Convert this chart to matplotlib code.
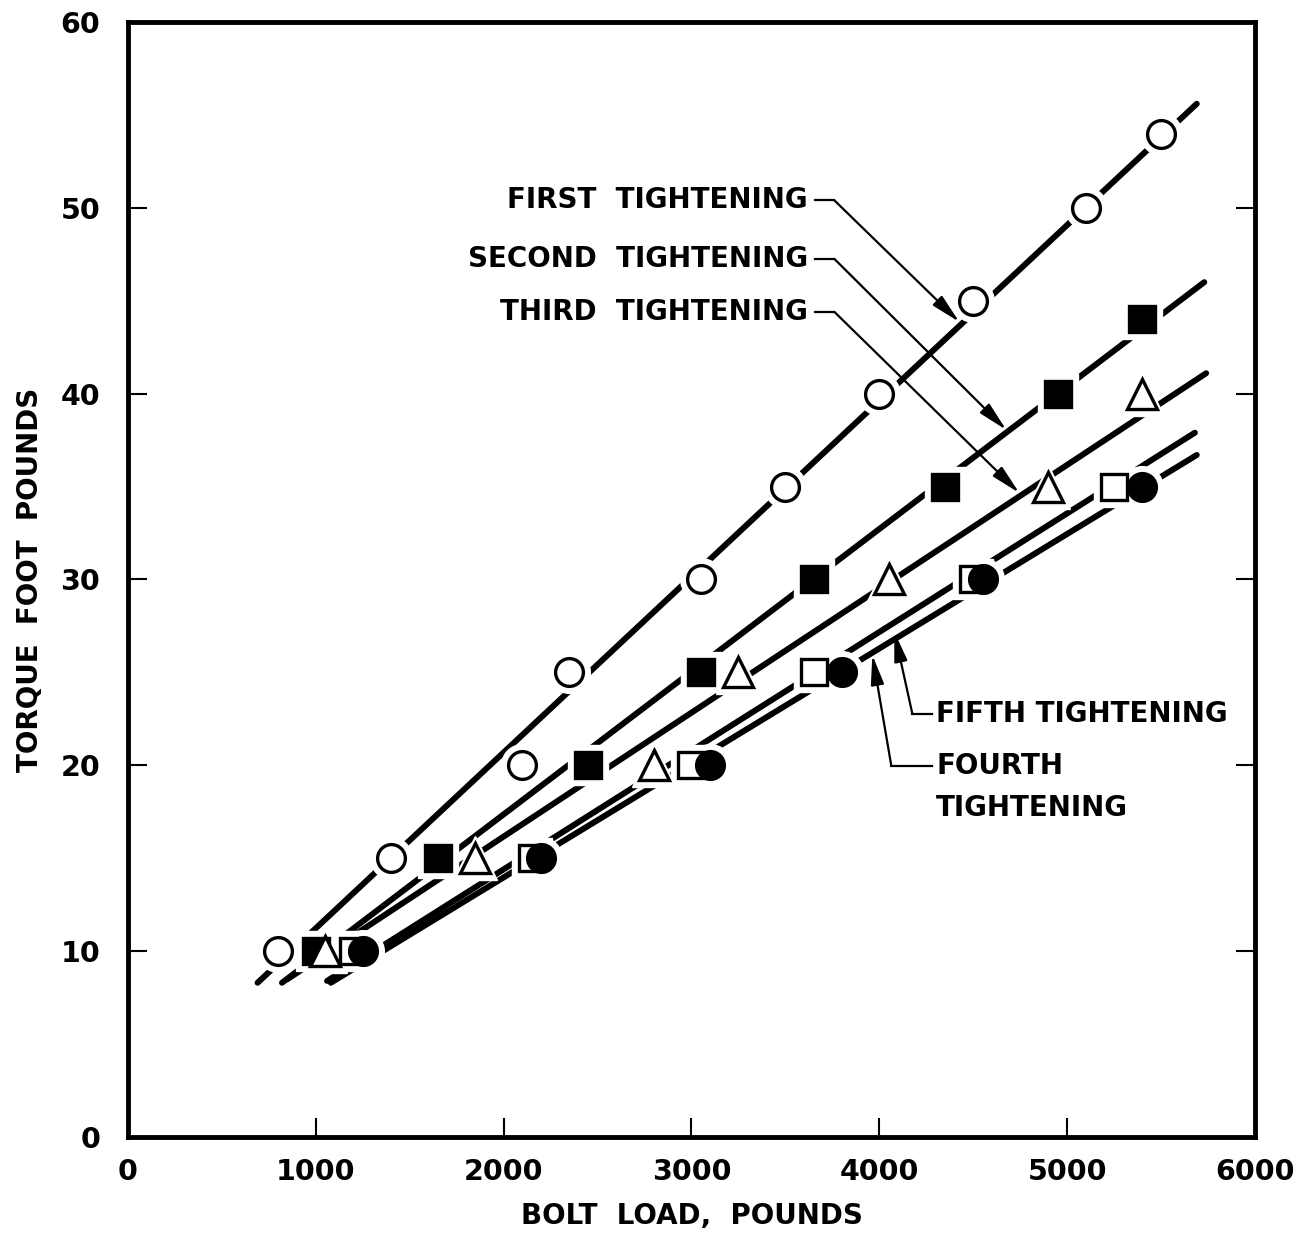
import matplotlib
matplotlib.use("Agg")
import matplotlib.pyplot as plt

# bolt load (lb) vs torque (ft-lb) for five successive tightenings
first_load = [800, 1400, 2100, 2350, 3050, 3500, 4000, 4500, 5100, 5500]
first_torque = [10, 15, 20, 25, 30, 35, 40, 45, 50, 54]
second_load = [1000, 1650, 2450, 3050, 3650, 4350, 4950, 5400]
second_torque = [10, 15, 20, 25, 30, 35, 40, 44]
third_load = [1050, 1850, 2800, 3250, 4050, 4900, 5400]
third_torque = [10, 15, 20, 25, 30, 35, 40]
fourth_load = [1250, 2200, 3100, 3800, 4550, 5400]
fourth_torque = [10, 15, 20, 25, 30, 35]
fifth_load = [1200, 2150, 3000, 3650, 4500, 5250]
fifth_torque = [10, 15, 20, 25, 30, 35]

# hand-drawn fit lines (end points)
first_fit_x, first_fit_y = [690, 5690], [8.3, 55.6]
second_fit_x, second_fit_y = [820, 5730], [8.3, 46.0]
third_fit_x, third_fit_y = [850, 5740], [8.5, 41.1]
fourth_fit_x, fourth_fit_y = [1080, 5690], [8.3, 36.7]
fifth_fit_x, fifth_fit_y = [1060, 5680], [8.4, 37.9]

x_ticks = [0, 1000, 2000, 3000, 4000, 5000, 6000]
y_ticks = [0, 10, 20, 30, 40, 50, 60]

plt.rcParams['font.family'] = ['DejaVu Sans']

fig = plt.figure(figsize=(13.07, 12.36), dpi=100)
ax = fig.add_axes([0.0979, 0.0801, 0.8623, 0.9021])

fits = [(first_fit_x, first_fit_y), (second_fit_x, second_fit_y),
        (third_fit_x, third_fit_y), (fourth_fit_x, fourth_fit_y),
        (fifth_fit_x, fifth_fit_y)]
for fx, fy in fits:
    ax.plot(fx, fy, color='black', lw=4.3, solid_capstyle='round', zorder=2)

series = [
    (first_load, first_torque, 'o', 'white', 20),
    (second_load, second_torque, 's', 'black', 19),
    (third_load, third_torque, '^', 'white', 21),
    (fifth_load, fifth_torque, 's', 'white', 19),
    (fourth_load, fourth_torque, 'o', 'black', 20),
]
# white halo under every marker so lines break around it
for xs, ys, m, fc, ms in series:
    ax.plot(xs, ys, ls='none', marker=m, ms=ms + 10, mfc='white', mec='white', zorder=3)
for i, (xs, ys, m, fc, ms) in enumerate(series):
    ax.plot(xs, ys, ls='none', marker=m, ms=ms, mfc=fc, mec='black', mew=2.4, zorder=4 + i)

# labels with leader arrows
txt = dict(fontsize=20, fontweight='bold', color='black', va='center')
ax.text(3620, 50.4, 'FIRST  TIGHTENING', ha='right', **txt)
ax.text(3620, 47.25, 'SECOND  TIGHTENING', ha='right', **txt)
ax.text(3620, 44.4, 'THIRD  TIGHTENING', ha='right', **txt)
ax.text(4303, 22.77, 'FIFTH TIGHTENING', ha='left', **txt)
ax.text(4303, 19.97, 'FOURTH', ha='left', **txt)
ax.text(4303, 17.7, 'TIGHTENING', ha='left', **txt)

arrow = dict(arrowstyle='-|>,head_length=1.8,head_width=0.4', lw=1.6, color='black',
             shrinkA=0, shrinkB=0)
leaders = [
    ((3660, 50.4), (3761, 50.4), (4426, 43.86)),
    ((3660, 47.25), (3761, 47.25), (4676, 38.05)),
    ((3660, 44.4), (3761, 44.4), (4745, 34.66)),
    ((4282, 22.77), (4176, 22.77), (4080, 27.18)),
    ((4282, 19.97), (4064, 19.97), (3963, 25.94)),
]
for start, corner, tip in leaders:
    ax.plot([start[0], corner[0]], [start[1], corner[1]], color='black', lw=1.6, zorder=6)
    ax.annotate('', xy=tip, xytext=corner, arrowprops=arrow, zorder=6)

ax.set_xlim(0, 6000)
ax.set_ylim(0, 60)
ax.set_xticks(x_ticks)
ax.set_yticks(y_ticks)
ax.tick_params(direction='in', length=14, width=1.5, labelsize=20.5,
               left=True, right=True, top=False, bottom=True)
ax.tick_params(axis='x', pad=15)
ax.tick_params(axis='y', pad=20)
for lab in ax.get_xticklabels() + ax.get_yticklabels():
    lab.set_fontweight('bold')
for s in ax.spines.values():
    s.set_linewidth(3.5)

ax.set_xlabel('BOLT  LOAD,  POUNDS', fontsize=20, fontweight='bold', labelpad=12)
ax.set_ylabel('TORQUE  FOOT  POUNDS', fontsize=20, fontweight='bold', labelpad=12)

plt.savefig('out.png', dpi=100)
